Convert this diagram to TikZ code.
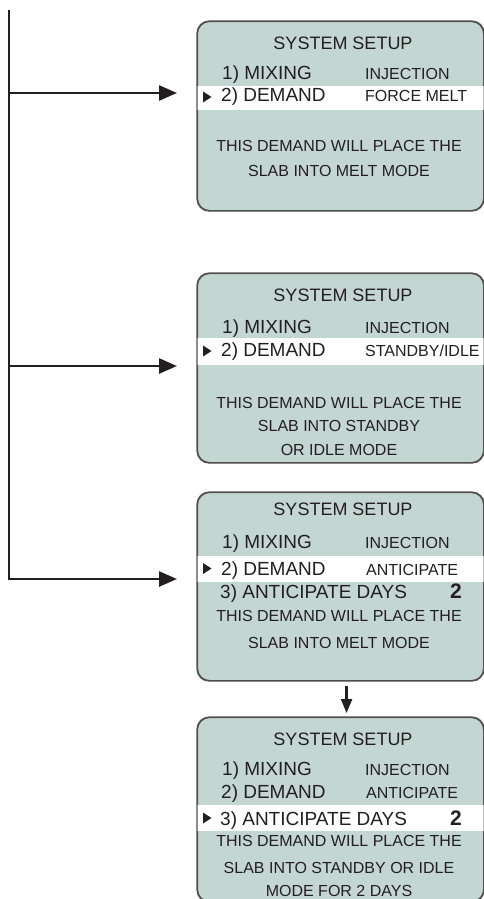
\documentclass[tikz,border=0pt]{standalone}
\usepackage{fontspec}
\setmainfont{Liberation Sans}
\usetikzlibrary{arrows.meta}
\definecolor{scrfill}{RGB}{196,214,209}
\definecolor{edge}{RGB}{80,80,80}
\definecolor{ink}{RGB}{35,31,32}
\begin{document}
\begin{tikzpicture}[x=1pt,y=-1pt,
 screen/.style={draw=edge, line width=1.1pt, fill=scrfill, rounded corners=12pt, minimum width=286pt, minimum height=189pt, inner sep=0pt, anchor=north west},
 rim/.style={draw=edge, line width=1.1pt, rounded corners=12pt},
 band/.style={fill=white},
 ttl/.style={font=\fontsize{18}{18}\selectfont, anchor=base, text=ink, inner sep=0pt},
 item/.style={font=\fontsize{19}{19}\selectfont, anchor=base west, text=ink, inner sep=0pt},
 val/.style={font=\fontsize{16}{16}\selectfont, anchor=base west, text=ink, inner sep=0pt},
 body/.style={font=\fontsize{16}{16}\selectfont, anchor=base, text=ink, inner sep=0pt},
 num/.style={font=\bfseries\fontsize{21}{21}\selectfont, anchor=base east, text=ink, inner sep=0pt},
 pointer/.style={fill=ink},
 trunk/.style={line width=2.5pt, draw=ink},
 feed/.style={trunk, -{Triangle[length=18pt,width=15pt]}},
 drop/.style={line width=2.2pt, draw=ink, -{Triangle[length=14pt,width=11pt]}}
]
\useasboundingbox (0,0) rectangle (484,899);

% ---------- screen 1 ----------
\node[screen] (box1) at (197,21) {};
\fill[band] (190,86) rectangle (484,110);
\draw[rim] (box1.north west) rectangle (box1.south east);
\node[ttl] (b1t) at (343,49.3) {SYSTEM SETUP};
\node[item] (b1a) at (222,79) {1) MIXING};
\node[val] (b1av) at (365,79) {INJECTION};
\fill[pointer] (203,91.5) -- (211.5,97) -- (203,102.5) -- cycle;
\node[item] (b1b) at (221,101.7) {2) DEMAND};
\node[val] (b1bv) at (365,101.7) {FORCE MELT};
\node[body] (b1l1) at (339,151.7) {THIS DEMAND WILL PLACE THE};
\node[body] (b1l2) at (339,176.7) {SLAB INTO MELT MODE};

% ---------- screen 2 ----------
\node[screen] (box2) at (197,273) {};
\fill[band] (190,338) rectangle (484,365);
\draw[rim] (box2.north west) rectangle (box2.south east);
\node[ttl] (b2t) at (343,301.7) {SYSTEM SETUP};
\node[item] (b2a) at (222,333.3) {1) MIXING};
\node[val] (b2av) at (365,333.3) {INJECTION};
\fill[pointer] (203,345.5) -- (211.5,351) -- (203,356.5) -- cycle;
\node[item] (b2b) at (221,356.7) {2) DEMAND};
\node[val] (b2bv) at (365,356.7) {STANDBY/IDLE};
\node[body] (b2l1) at (339,408.3) {THIS DEMAND WILL PLACE THE};
\node[body] (b2l2) at (339,431.7) {SLAB INTO STANDBY};
\node[body] (b2l3) at (339,455) {OR IDLE MODE};

% ---------- screen 3 ----------
\node[screen, minimum height=188pt] (box3) at (197,492) {};
\fill[band] (190,556) rectangle (484,582);
\draw[rim] (box3.north west) rectangle (box3.south east);
\node[ttl] (b3t) at (343,515) {SYSTEM SETUP};
\node[item] (b3a) at (222,548.3) {1) MIXING};
\node[val] (b3av) at (365,548.3) {INJECTION};
\fill[pointer] (203,563) -- (211.5,568.5) -- (203,574) -- cycle;
\node[item] (b3b) at (221,575) {2) DEMAND};
\node[val] (b3bv) at (366,575) {ANTICIPATE};
\node[item] (b3c) at (220,598.3) {3) ANTICIPATE DAYS};
\node[num] (b3cv) at (462,598.3) {2};
\node[body] (b3l1) at (339,621.7) {THIS DEMAND WILL PLACE THE};
\node[body] (b3l2) at (339,648.3) {SLAB INTO MELT MODE};

% ---------- screen 4 ----------
\node[screen, minimum height=184pt] (box4) at (197,717) {};
\fill[band] (190,805) rectangle (484,831);
\draw[rim] (box4.north west) rectangle (box4.south east);
\node[ttl] (b4t) at (343,745) {SYSTEM SETUP};
\node[item] (b4a) at (222,775) {1) MIXING};
\node[val] (b4av) at (365,775) {INJECTION};
\node[item] (b4b) at (221,798.3) {2) DEMAND};
\node[val] (b4bv) at (366,798.3) {ANTICIPATE};
\fill[pointer] (203,812.5) -- (211.5,818) -- (203,823.5) -- cycle;
\node[item] (b4c) at (220,825) {3) ANTICIPATE DAYS};
\node[num] (b4cv) at (462,825) {2};
\node[body] (b4l1) at (339,846.7) {THIS DEMAND WILL PLACE THE};
\node[body] (b4l2) at (339,873.3) {SLAB INTO STANDBY OR IDLE};
\node[body] (b4l3) at (339,896.5) {MODE FOR 2 DAYS};

% ---------- connectors ----------
\coordinate (top) at (9,10);
\coordinate (j1) at (9,93);
\coordinate (j2) at (9,366);
\coordinate (j3) at (9,579);
\coordinate (t1) at (177,93);
\coordinate (t2) at (177,366);
\coordinate (t3) at (177,579);
\draw[feed] (top) -- (j3) -- (t3);
\draw[feed] (j1) -- (t1);
\draw[feed] (j2) -- (t2);
\draw[drop] ([xshift=6pt,yshift=-5pt]box3.south) -- ([xshift=6pt,yshift=4pt]box4.north);
\end{tikzpicture}
\end{document}
